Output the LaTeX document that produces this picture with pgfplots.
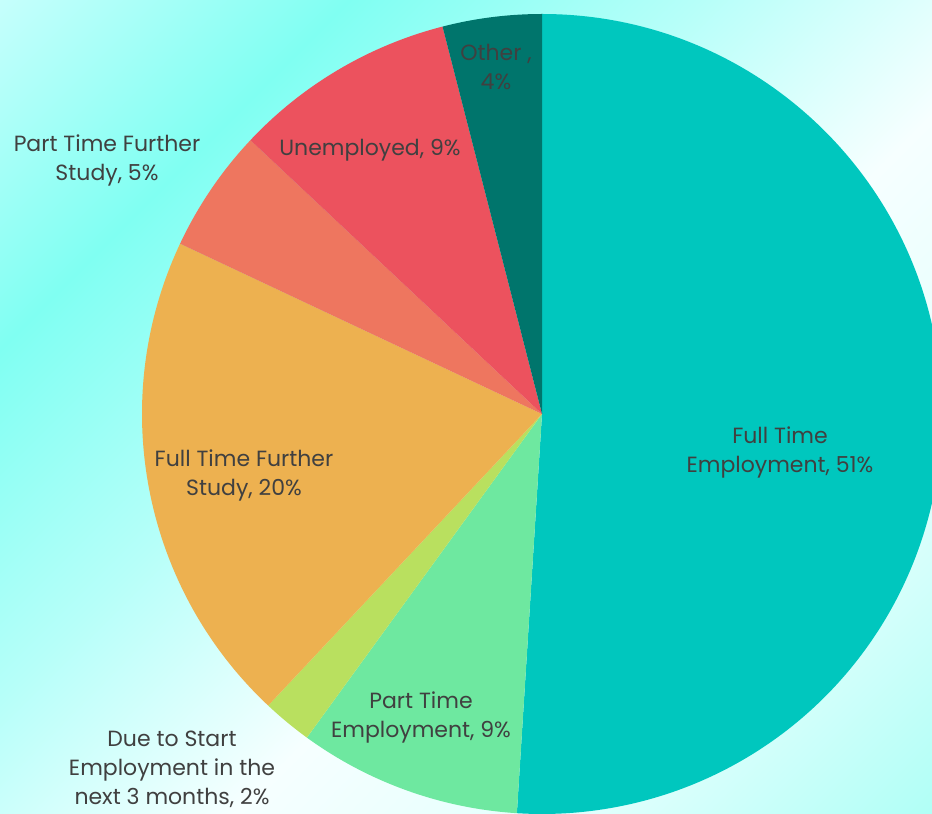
\documentclass[border=0pt]{standalone}
\usepackage{pgfplots}
\usepackage{pgfplotstable}
\pgfplotsset{compat=1.18}
\usepackage{fontspec}
\setmainfont{Poppins}

\definecolor{cFTE}{RGB}{0,199,190}
\definecolor{cPTE}{RGB}{110,232,160}
\definecolor{cDUE}{RGB}{185,224,95}
\definecolor{cFTFS}{RGB}{237,177,80}
\definecolor{cPTFS}{RGB}{238,118,95}
\definecolor{cUNE}{RGB}{236,82,94}
\definecolor{cOTH}{RGB}{0,117,108}
\definecolor{txt}{RGB}{64,64,64}

\pgfplotstableread[col sep=comma]{
label,value,color
Full Time Employment,51,cFTE
Part Time Employment,9,cPTE
Due to Start Employment in the next 3 months,2,cDUE
Full Time Further Study,20,cFTFS
Part Time Further Study,5,cPTFS
Unemployed,9,cUNE
Other,4,cOTH
}\piedata

\def\cx{542}\def\cy{400}\def\rad{400}

\begin{document}
\begin{tikzpicture}
\begin{axis}[
  at={(0,0)}, anchor=south west,
  scale only axis, width=932pt, height=814pt,
  xmin=0, xmax=932, ymin=0, ymax=814,
  hide axis, clip=true,
  colormap={bgmap}{rgb255=(198,255,252) rgb255=(128,255,242) rgb255=(182,255,249) rgb255=(246,255,255) rgb255=(226,255,253) rgb255=(176,255,246)},
  point meta min=0, point meta max=1746,
]
% background gradient (meta = distance along the top-left to bottom-right diagonal)
\addplot[patch, shader=interp, point meta=explicit] coordinates {
  (0,0) [814] (932,0) [1746] (932,814) [932]
  (0,0) [814] (932,814) [932] (0,814) [0]
};
% pie slices, clockwise from 12 o'clock
\gdef\angstart{90}
\pgfplotsforeachungrouped \i in {0,...,6}{
  \pgfplotstablegetelem{\i}{value}\of\piedata \let\val\pgfplotsretval
  \pgfplotstablegetelem{\i}{color}\of\piedata \let\col\pgfplotsretval
  \pgfmathsetmacro\angend{\angstart - 3.6*\val}
  \edef\temp{\noexpand\fill[\col] (axis cs:\cx,\cy) -- ++(\angstart:\rad pt) arc[start angle=\angstart, end angle=\angend, radius=\rad pt] -- cycle;}
  \temp
  \global\let\angstart\angend
}
\begin{scope}[every node/.style={align=center, text=txt, font=\fontsize{22}{29}\selectfont, inner sep=0pt}]
\node at (axis cs:780,362) {Full Time\\Employment, 51\%};
\node at (axis cs:421,97) {Part Time\\Employment, 9\%};
\node at (axis cs:172,45) {Due to Start\\Employment in the\\next 3 months, 2\%};
\node at (axis cs:244,339) {Full Time Further\\Study, 20\%};
\node at (axis cs:107,654) {Part Time Further\\Study, 5\%};
\node at (axis cs:370,664) {Unemployed, 9\%};
\node at (axis cs:496,747) {Other ,\\4\%};
\end{scope}
\end{axis}
\pgfresetboundingbox
\path[use as bounding box] (0,0) rectangle (932pt,814pt);
\end{tikzpicture}
\end{document}
